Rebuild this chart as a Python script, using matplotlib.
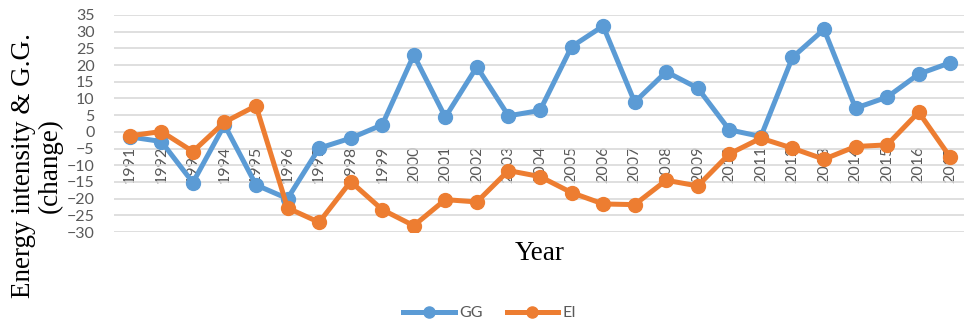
import matplotlib.pyplot as plt

years = [str(y) for y in range(1991, 2018)]
gg = [-1.5, -2.9, -15.2, 2.1, -15.9, -20.0, -4.9, -1.9, 2.1, 23.0, 4.4, 19.5, 4.8, 6.4,
      25.5, 31.7, 8.9, 18.0, 13.1, 0.6, -1.4, 22.3, 30.7, 7.1, 10.4, 17.3, 20.7]
ei = [-1.2, 0.1, -5.9, 2.9, 7.8, -22.8, -27.1, -14.9, -23.3, -28.1, -20.3, -21.0, -11.6, -13.4,
      -18.2, -21.6, -21.8, -14.5, -16.2, -6.6, -1.9, -4.9, -8.2, -4.4, -3.9, 5.9, -7.6]

blue = '#5B9BD5'
orange = '#ED7D31'
grey = '#595959'

fig = plt.figure(figsize=(9.64, 3.24), dpi=100)
ax = fig.add_axes([114 / 964, 92 / 324, 852 / 964, 217 / 324])

x = list(range(len(years)))
ax.plot(x, gg, color=blue, lw=3.6, marker='o', ms=10, label='GG', zorder=3)
ax.plot(x, ei, color=orange, lw=3.6, marker='o', ms=10, label='EI', zorder=3)

ax.set_xlim(-0.5, len(years) - 0.5)
ax.set_ylim(-30, 35)
ax.set_yticks(range(-30, 36, 5))
ax.grid(axis='y', color='#D9D9D9', lw=1.2)
ax.set_axisbelow(True)
for s in ax.spines.values():
    s.set_visible(False)
ax.spines['bottom'].set_position(('data', 0))

ax.set_xticks(x)
ax.set_xticklabels(years, rotation=90, fontfamily='Lato', fontsize=11.5, color=grey)
ax.tick_params(axis='x', length=0, pad=10)
ax.tick_params(axis='y', length=0, pad=14, labelsize=11.5, labelcolor=grey)
for lab in ax.get_yticklabels():
    lab.set_fontfamily('Lato')

fig.text(37 / 964, 1 - 166 / 324, 'Energy intensity & G.G.\n(change)', rotation=90,
         ha='center', va='center', family='Liberation Serif', fontsize=19.5, linespacing=1.05)
fig.text(540 / 964, 1 - 253 / 324, 'Year', ha='center', va='center',
         family='Liberation Serif', fontsize=19.5)

fig.legend(loc='center', bbox_to_anchor=(490 / 964, 1 - 313 / 324), ncol=2, frameon=False,
           handlelength=3.2, columnspacing=1.5, handletextpad=0.3, markerscale=0.8,
           prop={'family': 'Lato', 'size': 11.5}, labelcolor=grey)

fig.savefig('out.png', dpi=100)
